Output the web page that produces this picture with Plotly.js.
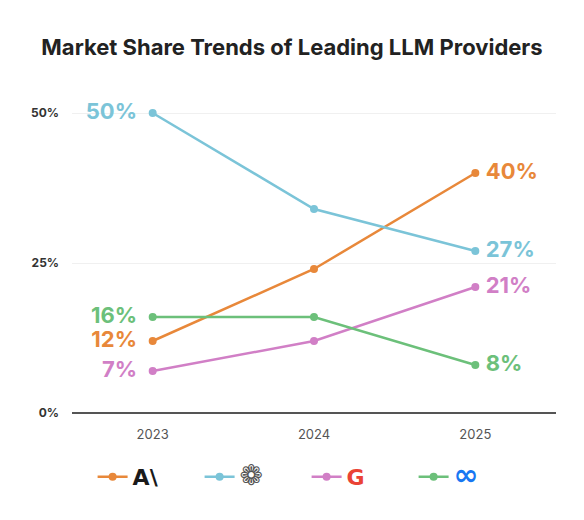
<!DOCTYPE html>
<html>
<head>
<meta charset="utf-8">
<script src="https://cdn.plot.ly/plotly-3.0.1.min.js"></script>
<style>
  html, body { margin: 0; padding: 0; background: #ffffff; }
  #chart { width: 584px; height: 520px; }
</style>
</head>
<body>
<div id="chart"></div>
<script>
// ---- data ----
const years = ["2023", "2024", "2025"];
const anthropic = [12, 24, 40];
const openai = [50, 34, 27];
const google = [7, 12, 21];
const meta = [16, 16, 8];

const seriesNames = [
  '<b><span style="color:#1a1a1a">A\\</span></b>',
  '<span style="color:#555555;font-size:28px">❁</span>',
  '<b><span style="color:#EA4335">G</span></b>',
  '<b><span style="color:#1877F2;font-size:30px">∞</span></b>'
];
const seriesValues = [anthropic, openai, google, meta];
const colors = ["#E8883A", "#7BC4D8", "#D17FC6", "#6CC07A"];

const fontFam = "Inter, 'Open Sans', sans-serif";

const traces = [];
seriesValues.forEach((vals, i) => {
  traces.push({
    x: years, y: vals, type: 'scatter', mode: 'lines+markers',
    name: seriesNames[i],
    line: { color: colors[i], width: 2.5 },
    marker: { color: colors[i], size: 8 },
    hoverinfo: 'skip'
  });
});
// end labels
seriesValues.forEach((vals, i) => {
  const n = vals.length;
  traces.push({
    x: [years[0], years[n - 1]],
    y: [vals[0], vals[n - 1]],
    type: 'scatter', mode: 'text',
    text: [vals[0] + '%   ', '  ' + vals[n - 1] + '%'],
    textposition: ['middle left', 'middle right'],
    textfont: { family: fontFam, size: 22, color: colors[i], weight: 700 },
    showlegend: false, hoverinfo: 'skip', cliponaxis: false
  });
});

const layout = {
  width: 584, height: 520,
  paper_bgcolor: '#ffffff', plot_bgcolor: '#ffffff',
  margin: { l: 72, r: 28, t: 83, b: 107, autoexpand: false },
  title: {
    text: '<b>Market Share Trends of Leading LLM Providers</b>',
    font: { family: fontFam, size: 22, color: '#222222' },
    x: 0.5, xanchor: 'center', y: 1 - 47 / 520, yanchor: 'middle', yref: 'container'
  },
  xaxis: {
    type: 'category', range: [-0.5, 2.5],
    showgrid: false, zeroline: false,
    showline: false, ticks: '',
    ticklabelstandoff: 12,
    tickfont: { family: fontFam, size: 13, color: '#555555' },
    fixedrange: true
  },
  yaxis: {
    range: [0, 55],
    tickvals: [0, 25, 50], ticktext: ['<b>0%</b>', '<b>25%</b>', '<b>50%</b>'],
    showgrid: true, gridcolor: '#f0f0f0', gridwidth: 1,
    zeroline: true, zerolinecolor: '#555555', zerolinewidth: 2,
    showline: false, ticks: '',
    ticklabelstandoff: 12,
    tickfont: { family: fontFam, size: 12, color: '#333333' },
    fixedrange: true
  },
  showlegend: true,
  legend: {
    orientation: 'h', x: 0.525, xanchor: 'center', xref: 'container',
    y: 1 - 477 / 520, yanchor: 'middle', yref: 'container',
    font: { family: "'DejaVu Sans', sans-serif", size: 22 },
    entrywidth: 62, entrywidthmode: 'pixels',
    itemclick: false, itemdoubleclick: false
  }
};

Plotly.newPlot('chart', traces, layout, { displayModeBar: false, staticPlot: true });
</script>
</body>
</html>
